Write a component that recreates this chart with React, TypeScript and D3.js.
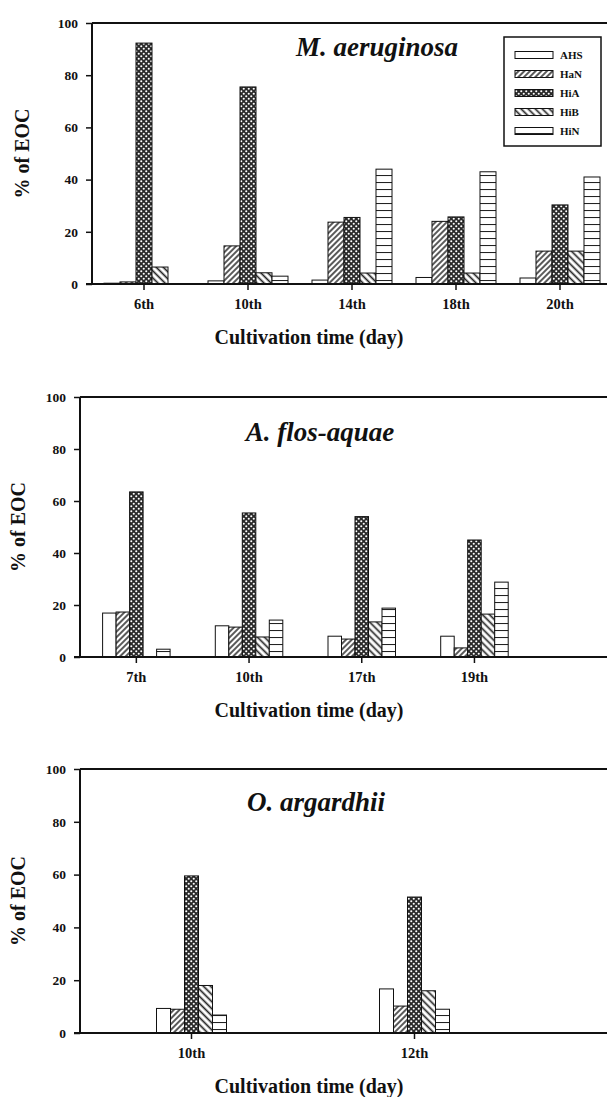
import React, { useEffect, useRef } from 'react';
import * as d3 from 'd3';

const series = ['AHS', 'HaN', 'HiA', 'HiB', 'HiN'];
const yTicks = [0, 20, 40, 60, 80, 100];

// M. aeruginosa
const maDays = ['6th', '10th', '14th', '18th', '20th'];
const maAHS = [0.3, 1.2, 1.5, 2.5, 2.3];
const maHaN = [0.8, 14.6, 23.7, 24, 12.6];
const maHiA = [92.3, 75.5, 25.5, 25.7, 30.3];
const maHiB = [6.5, 4.3, 4.2, 4.2, 12.6];
const maHiN = [0, 3, 44, 43, 41];

// A. flos-aquae
const afDays = ['7th', '10th', '17th', '19th'];
const afAHS = [16.9, 12, 8, 8];
const afHaN = [17.3, 11.5, 6.9, 3.5];
const afHiA = [63.5, 55.4, 54, 45];
const afHiB = [0, 7.7, 13.5, 16.5];
const afHiN = [3, 14.2, 18.8, 28.8];

// O. argardhii
const oaDays = ['10th', '12th'];
const oaAHS = [9.3, 16.7];
const oaHaN = [9, 10.2];
const oaHiA = [59.5, 51.5];
const oaHiB = [18, 16];
const oaHiN = [6.8, 9];

const fills = {
    AHS: '#fff',
    HaN: 'url(#pHaN)',
    HiA: 'url(#pHiA)',
    HiB: 'url(#pHiB)',
    HiN: 'url(#pHiN)',
};

const W = 607;
const font = '"Liberation Serif", "Times New Roman", serif';

const panels = [
    { title: 'M. aeruginosa', days: maDays, values: [maAHS, maHaN, maHiA, maHiB, maHiN],
      top: 23, bottom: 284, left: 92, step: 104, barW: 16, titleX: 377, titleY: 56, ylabX: 22, legend: true },
    { title: 'A. flos-aquae', days: afDays, values: [afAHS, afHaN, afHiA, afHiB, afHiN],
      top: 397, bottom: 657, left: 80, step: 112.7, barW: 13.5, titleX: 320, titleY: 441, ylabX: 18 },
    { title: 'O. argardhii', days: oaDays, values: [oaAHS, oaHaN, oaHiA, oaHiB, oaHiN],
      top: 769, bottom: 1033, left: 80, step: 223, barW: 14, titleX: 316, titleY: 811, ylabX: 18 },
];

const Panel = ({ p }) => {
    const gRef = useRef();

    useEffect(() => {
        const g = d3.select(gRef.current);
        g.selectAll('*').remove();

        const x = d3.scaleBand()
            .domain(p.days)
            .range([p.left, p.left + p.days.length * p.step]);
        const sub = d3.scaleBand()
            .domain(series)
            .range([-2.5 * p.barW, 2.5 * p.barW]);
        const y = d3.scaleLinear().domain([0, 100]).range([p.bottom, p.top]);

        // bars
        series.forEach((s, si) => {
            g.append('g')
                .selectAll('rect')
                .data(p.days.map((d, i) => ({ day: d, v: p.values[si][i] })).filter(d => d.v > 0))
                .join('rect')
                .attr('x', d => x(d.day) + x.bandwidth() / 2 + sub(s))
                .attr('y', d => y(d.v))
                .attr('width', sub.bandwidth())
                .attr('height', d => y(0) - y(d.v))
                .attr('fill', fills[s])
                .attr('stroke', '#111')
                .attr('stroke-width', 1);
        });

        // y axis
        const yAxis = d3.axisLeft(y).tickValues(yTicks).tickSize(6).tickPadding(8).tickSizeOuter(0);
        const ya = g.append('g').attr('transform', `translate(${p.left},0)`).call(yAxis);
        ya.select('.domain').remove();
        ya.selectAll('line').attr('stroke', '#111').attr('stroke-width', 1.5);
        ya.selectAll('text').attr('font-family', font).attr('font-weight', 'bold').attr('font-size', 13.5).attr('fill', '#111');

        // x axis
        const xAxis = d3.axisBottom(x).tickSize(6).tickPadding(9).tickSizeOuter(0);
        const xa = g.append('g').attr('transform', `translate(0,${p.bottom})`).call(xAxis);
        xa.select('.domain').remove();
        xa.selectAll('line').attr('stroke', '#111').attr('stroke-width', 1.5);
        xa.selectAll('text').attr('font-family', font).attr('font-weight', 'bold').attr('font-size', 14.5).attr('fill', '#111');

        // frame lines
        g.append('line').attr('x1', p.left).attr('x2', W).attr('y1', p.top).attr('y2', p.top)
            .attr('stroke', '#111').attr('stroke-width', 2);
        g.append('line').attr('x1', p.left - 6).attr('x2', W).attr('y1', p.bottom).attr('y2', p.bottom)
            .attr('stroke', '#111').attr('stroke-width', 2);
        g.append('line').attr('x1', p.left).attr('x2', p.left).attr('y1', p.top).attr('y2', p.bottom)
            .attr('stroke', '#111').attr('stroke-width', 2);

        g.append('text')
            .attr('x', p.titleX).attr('y', p.titleY)
            .attr('text-anchor', 'middle')
            .attr('font-family', font).attr('font-weight', 'bold').attr('font-style', 'italic')
            .attr('font-size', 27).attr('fill', '#111')
            .text(p.title);

        g.append('text')
            .attr('x', 309).attr('y', p.bottom + 60)
            .attr('text-anchor', 'middle')
            .attr('font-family', font).attr('font-weight', 'bold')
            .attr('font-size', 20).attr('fill', '#111')
            .text('Cultivation time (day)');

        const midY = (p.top + p.bottom) / 2;
        g.append('text')
            .attr('transform', `translate(${p.ylabX + 7},${midY}) rotate(-90)`)
            .attr('text-anchor', 'middle')
            .attr('font-family', font).attr('font-weight', 'bold')
            .attr('font-size', 20).attr('fill', '#111')
            .text('% of EOC');

        if (p.legend) {
            const lg = g.append('g');
            lg.append('rect').attr('x', 504).attr('y', 37).attr('width', 97).attr('height', 109)
                .attr('fill', '#fff').attr('stroke', '#111').attr('stroke-width', 1.5);
            series.forEach((s, i) => {
                const cy = 55 + i * 19;
                lg.append('rect').attr('x', 515).attr('y', cy - 3.5).attr('width', 38).attr('height', 7)
                    .attr('fill', fills[s]).attr('stroke', '#111').attr('stroke-width', 1);
                lg.append('text').attr('x', 560).attr('y', cy + 4)
                    .attr('font-family', font).attr('font-weight', 'bold').attr('font-size', 11).attr('fill', '#111')
                    .text(s);
            });
        }
    }, [p]);

    return <g ref={gRef} />;
};

const App = () => (
    <svg width={W} height={1097} style={{ position: 'absolute', left: 0, top: 0, background: '#fff' }}>
        <defs>
            <pattern id="pHaN" patternUnits="userSpaceOnUse" width="4" height="4" patternTransform="rotate(45)">
                <rect width="4" height="4" fill="#fff" />
                <line x1="1" y1="0" x2="1" y2="4" stroke="#222" strokeWidth="1.5" />
            </pattern>
            <pattern id="pHiB" patternUnits="userSpaceOnUse" width="5" height="5" patternTransform="rotate(-45)">
                <rect width="5" height="5" fill="#fff" />
                <line x1="1.5" y1="0" x2="1.5" y2="5" stroke="#222" strokeWidth="1.7" />
            </pattern>
            <pattern id="pHiN" patternUnits="userSpaceOnUse" width="10" height="7">
                <rect width="10" height="7" fill="#fff" />
                <line x1="0" y1="0.5" x2="10" y2="0.5" stroke="#222" strokeWidth="1.1" />
            </pattern>
            <pattern id="pHiA" patternUnits="userSpaceOnUse" width="5" height="5">
                <rect width="5" height="5" fill="#2a2a2a" />
                <circle cx="1.25" cy="1.25" r="1.05" fill="#fff" />
                <circle cx="3.75" cy="3.75" r="1.05" fill="#fff" />
            </pattern>
        </defs>
        {panels.map(p => <Panel key={p.title} p={p} />)}
    </svg>
);

export default App;
